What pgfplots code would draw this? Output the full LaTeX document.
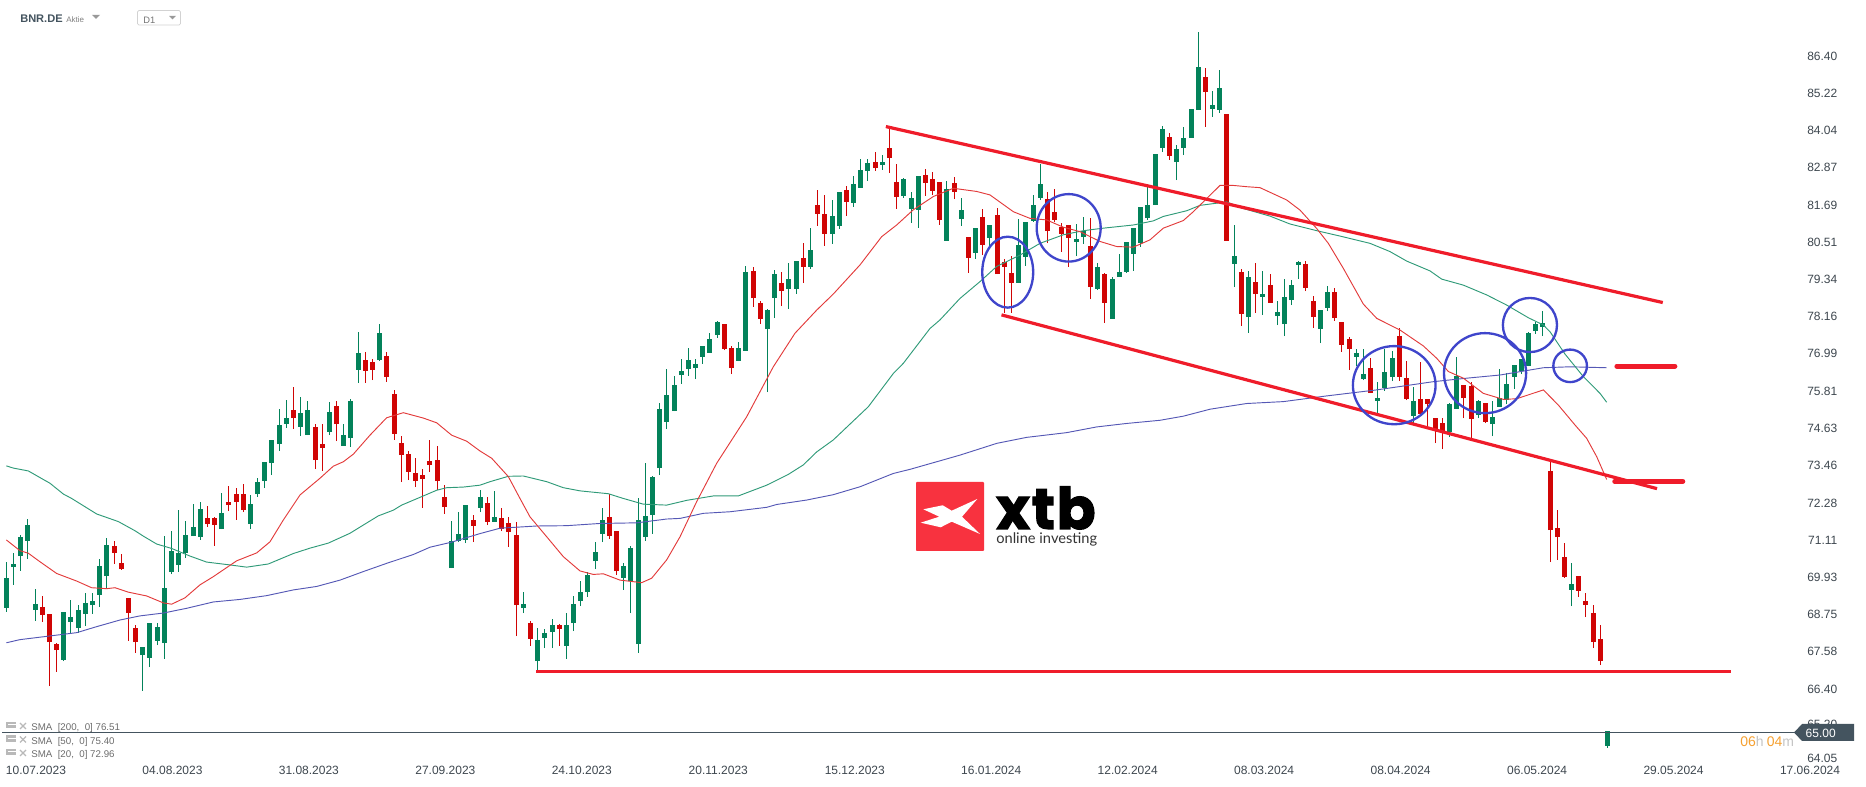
\documentclass[border=0pt]{standalone}
\usepackage{pgfplots}
\usepackage{pgfplotstable}
\usepackage{fontspec}
\pgfplotsset{compat=1.18}
\setmainfont{Liberation Sans}
\newfontfamily\logofont[BoldFeatures={FakeBold=2},LetterSpace=3]{Poppins}
\newfontfamily\subfont{Lato}
\definecolor{cup}{HTML}{03825A}
\definecolor{cdn}{HTML}{D00505}
\definecolor{smar}{HTML}{E23A3A}
\definecolor{smag}{HTML}{2F9A78}
\definecolor{smab}{HTML}{5558B5}
\definecolor{anr}{HTML}{EF1C2A}
\definecolor{anb}{HTML}{3F45CB}
\definecolor{tick}{HTML}{3D464E}
\definecolor{pline}{HTML}{44545F}
\pgfplotstableread{
i l h b t
0 68.84 70.41 68.97 69.91
1 69.69 70.70 70.25 70.35
2 70.13 71.26 70.60 71.20
3 70.51 71.77 71.08 71.58
4 68.55 69.56 68.90 69.08
8 67.28 68.83 67.32 68.83
9 68.14 69.21 68.52 68.67
10 68.17 69.05 68.33 68.90
11 68.39 69.43 68.77 69.12
12 68.77 69.43 69.05 69.18
13 68.99 70.51 69.37 70.29
14 69.59 71.17 69.97 70.95
19 66.34 67.73 67.47 67.73
20 67.09 68.48 67.38 68.48
21 67.79 68.48 67.92 68.36
22 67.35 71.23 67.85 69.59
23 70.03 71.39 70.10 70.76
24 70.10 72.05 70.32 70.70
25 70.54 71.71 70.70 71.26
26 71.23 72.24 71.23 71.52
27 71.11 72.31 71.20 72.09
30 71.45 72.59 71.45 71.96
34 71.45 72.53 71.61 72.24
35 72.47 73.07 72.56 72.94
36 72.75 73.57 72.97 73.57
37 73.16 74.27 73.54 74.27
38 73.92 75.25 74.14 74.74
39 74.65 75.53 74.77 74.96
41 74.39 75.63 74.68 75.12
42 74.42 75.50 74.42 75.21
45 74.42 75.47 74.52 75.15
47 74.08 74.77 74.08 74.42
48 74.05 75.56 74.33 75.50
49 76.07 77.68 76.48 77.02
52 76.76 77.93 76.79 77.65
62 70.22 71.71 70.22 71.08
63 71.04 71.99 71.08 71.30
64 71.01 72.21 71.11 72.21
66 71.99 72.69 72.12 72.47
68 71.68 72.66 71.68 71.83
72 68.80 69.46 68.96 69.09
74 67.00 68.33 67.28 67.95
75 67.69 68.30 68.01 68.17
76 67.69 68.61 68.20 68.42
78 67.35 68.80 67.76 68.42
79 68.23 69.34 68.48 69.09
80 69.02 69.81 69.18 69.46
81 69.31 70.10 69.46 70.00
82 70.19 71.04 70.44 70.73
83 71.04 72.12 71.30 71.74
86 69.53 70.38 69.91 70.29
87 68.80 70.92 69.81 70.85
88 67.54 72.43 67.82 71.74
89 71.08 73.54 71.20 71.87
90 71.30 73.13 71.90 73.10
91 73.16 75.44 73.38 75.25
92 74.61 76.51 74.84 75.69
93 75.18 76.29 75.18 76.00
94 76.04 76.83 76.32 76.45
95 76.29 77.17 76.51 76.79
96 76.19 76.83 76.54 76.67
97 76.67 77.24 76.89 77.24
98 77.02 77.65 77.02 77.46
99 77.49 78.03 77.58 78.00
102 76.76 77.36 76.76 77.17
103 77.08 79.76 77.08 79.57
106 75.78 78.41 77.77 78.37
107 78.12 79.64 78.75 79.51
109 78.41 79.86 79.04 79.35
110 78.88 79.93 79.04 79.93
112 79.67 80.97 79.74 80.27
115 80.46 81.85 80.78 81.35
116 80.94 82.11 81.03 82.11
118 81.63 82.61 81.76 82.36
119 82.23 83.15 82.23 82.80
120 82.45 83.15 82.77 83.02
122 82.80 83.27 82.96 83.05
125 81.92 82.55 81.98 82.52
126 81.13 82.11 81.57 81.92
127 80.97 82.61 81.54 82.61
131 80.56 82.45 80.56 82.20
133 81.03 81.92 81.25 81.54
135 79.99 80.97 80.18 80.97
137 80.38 81.06 80.65 81.06
141 79.23 81.25 79.23 80.43
142 79.77 81.16 80.05 81.16
143 81.16 82.01 81.19 81.69
144 81.85 82.99 81.92 82.36
149 80.08 81.09 80.53 80.62
150 80.46 81.32 80.68 80.87
152 79.01 79.86 79.04 79.74
154 78.09 79.42 78.09 79.36
155 79.42 80.15 79.42 79.58
156 79.55 80.53 79.58 80.53
157 79.61 80.97 80.15 80.97
158 80.37 81.63 80.49 81.63
159 81.22 82.26 81.28 81.69
160 81.69 83.31 81.69 83.31
161 83.37 84.19 83.50 84.10
163 82.48 83.59 83.05 83.46
164 83.27 84.16 83.50 83.81
165 83.81 84.73 83.81 84.73
166 84.70 87.16 84.70 86.05
168 84.48 85.30 84.73 84.85
169 84.60 85.96 84.70 85.39
171 79.10 81.06 79.83 80.08
173 77.65 79.61 78.15 79.42
175 78.22 79.61 78.79 78.88
177 77.90 78.66 78.18 78.31
178 77.55 79.35 77.93 78.79
179 78.53 79.32 78.69 79.16
180 79.35 79.92 79.80 79.89
183 77.33 78.37 77.77 78.37
184 78.34 79.13 78.44 78.94
188 76.60 77.14 76.89 77.02
189 76.16 77.14 76.19 76.35
191 75.09 76.10 75.50 75.59
192 75.82 77.14 75.91 76.42
193 76.13 77.08 76.26 76.86
196 74.81 75.94 75.03 75.50
201 74.36 75.44 74.52 75.40
202 75.25 76.89 75.25 76.29
205 74.96 75.53 75.06 75.50
207 74.39 75.50 74.77 74.99
208 75.31 76.51 75.31 75.59
209 75.40 76.38 75.53 76.04
210 75.88 76.64 76.26 76.64
211 76.35 76.83 76.45 76.83
212 76.60 77.68 76.60 77.65
213 77.62 78.00 77.71 77.93
214 77.55 78.34 77.84 77.96
218 69.02 70.38 69.53 69.72
223 64.54 65.07 64.60 65.07
}\upbars
\pgfplotstableread{
i l h b t
5 68.52 69.34 68.74 68.99
6 66.49 68.77 67.88 68.77
7 66.94 67.85 67.63 67.82
15 70.35 71.08 70.70 70.92
16 70.16 70.66 70.19 70.38
17 67.92 69.27 68.80 69.27
18 67.54 68.42 67.88 68.33
28 71.52 72.18 71.61 71.80
29 70.92 71.83 71.58 71.80
31 72.02 72.81 72.21 72.31
32 71.74 72.75 72.31 72.56
33 71.99 72.88 72.05 72.56
40 74.61 75.94 74.96 75.21
43 73.35 74.77 73.63 74.68
44 73.29 74.77 74.01 74.14
46 74.23 75.50 74.77 75.34
50 76.07 77.05 76.45 76.79
51 76.16 76.83 76.48 76.73
53 76.10 77.05 76.26 76.92
54 74.27 75.85 74.46 75.72
55 72.94 74.39 73.79 74.17
56 73.00 73.92 73.26 73.82
57 72.78 73.70 72.97 73.22
58 72.12 73.35 73.03 73.16
59 73.26 74.27 73.48 73.60
60 72.69 74.08 72.97 73.63
61 71.93 72.84 72.15 72.47
65 71.04 71.90 71.55 71.74
67 71.58 72.47 71.68 72.28
69 71.39 72.12 71.45 71.80
70 70.89 71.83 71.36 71.64
71 68.07 71.68 69.05 71.27
73 67.76 68.55 67.98 68.48
77 67.76 68.45 68.30 68.42
84 71.14 72.56 71.23 71.83
85 70.00 71.39 70.13 71.39
100 77.11 77.93 77.14 77.93
101 76.35 77.24 76.54 77.17
104 78.47 79.73 78.75 79.61
105 77.93 78.66 78.09 78.60
108 78.50 79.57 78.97 79.23
111 79.23 80.49 79.74 80.02
113 81.03 82.17 81.41 81.69
114 80.40 82.01 80.78 81.41
117 81.35 82.29 81.79 82.17
121 82.77 83.37 82.86 83.05
123 82.71 84.17 83.18 83.50
124 81.57 82.99 81.95 82.42
128 81.98 82.83 82.39 82.64
129 82.01 82.74 82.14 82.52
130 81.06 82.42 81.22 82.42
132 81.88 82.58 82.11 82.39
134 79.55 80.68 80.02 80.68
136 80.11 81.57 80.43 81.32
138 79.51 81.60 79.51 81.38
139 78.28 79.99 79.74 79.89
140 78.28 80.08 79.23 79.55
145 80.49 82.11 80.87 81.88
146 81.16 82.20 81.22 81.47
147 80.21 81.13 80.78 81.00
148 79.74 81.06 80.65 81.06
151 78.72 81.28 79.10 80.40
153 77.97 79.55 78.60 79.52
162 83.12 83.97 83.24 83.84
167 84.16 86.02 85.27 85.74
170 80.56 84.57 80.56 84.57
172 77.87 79.67 78.25 79.58
174 78.28 79.86 78.88 79.26
176 78.60 79.51 78.60 79.16
181 78.97 79.92 79.07 79.83
182 77.81 78.82 78.15 78.66
185 78.03 79.07 78.12 78.94
186 77.05 78.00 77.27 78.00
187 76.48 77.52 77.14 77.46
190 75.75 76.86 75.75 76.54
194 76.13 77.81 76.26 77.55
195 75.53 76.76 75.56 76.23
197 75.03 76.73 75.09 75.56
198 74.68 75.56 75.40 75.56
199 74.17 74.96 74.58 74.96
200 73.98 74.96 74.52 74.80
203 74.96 76.00 75.59 76.00
204 74.33 76.10 74.93 75.97
206 74.80 75.44 74.84 75.44
215 70.41 73.60 71.42 73.29
216 70.48 72.06 71.20 71.49
217 69.91 71.01 69.94 70.57
219 69.31 69.97 69.50 69.97
220 68.67 69.43 69.05 69.18
221 67.69 69.05 67.88 68.80
222 67.16 68.42 67.28 67.98
}\downbars
\begin{document}
\begin{tikzpicture}
\useasboundingbox (0,0) rectangle (1399.5pt,590.25pt);
\begin{axis}[
  at={(0,0)},anchor=south west,
  scale only axis,width=1399.5pt,height=590.25pt,
  xmin=-0.8816,xmax=259.01,ymin=63.304,ymax=88.169,
  axis line style={draw=none},
  major tick length=0pt,
  clip=false,
  xtick pos=bottom,ytick pos=right,
  xtick={4.13,23.14,42.14,61.15,80.15,99.16,118.17,137.17,156.18,175.18,194.19,213.2,232.2,251.21},
  xticklabels={10.07.2023,04.08.2023,31.08.2023,27.09.2023,24.10.2023,20.11.2023,15.12.2023,16.01.2024,12.02.2024,08.03.2024,08.04.2024,06.05.2024,29.05.2024,17.06.2024},
  ytick={86.40,85.22,84.04,82.87,81.69,80.51,79.34,78.16,76.99,75.81,74.63,73.46,72.28,71.11,69.93,68.75,67.58,66.40,65.29,64.22},
  yticklabels={86.40,85.22,84.04,82.87,81.69,80.51,79.34,78.16,76.99,75.81,74.63,73.46,72.28,71.11,69.93,68.75,67.58,66.40,65.20,64.05},
  tick label style={font=\fontsize{9}{10}\selectfont,text=tick},
  xticklabel style={anchor=center,yshift=12.75pt},
  yticklabel style={anchor=east,xshift=-18pt},
]
% wicks and bodies
\addplot[draw=none,mark=none,forget plot,error bars/.cd,y dir=plus,y explicit,error mark=none,
  error bar style={line width=0.75pt,color=cup}]
  table[x=i,y=l,y error plus expr=\thisrow{h}-\thisrow{l}]{\upbars};
\addplot[draw=none,mark=none,forget plot,error bars/.cd,y dir=plus,y explicit,error mark=none,
  error bar style={line width=3.75pt,color=cup}]
  table[x=i,y=b,y error plus expr=\thisrow{t}-\thisrow{b}]{\upbars};
\addplot[draw=none,mark=none,forget plot,error bars/.cd,y dir=plus,y explicit,error mark=none,
  error bar style={line width=0.75pt,color=cdn}]
  table[x=i,y=l,y error plus expr=\thisrow{h}-\thisrow{l}]{\downbars};
\addplot[draw=none,mark=none,forget plot,error bars/.cd,y dir=plus,y explicit,error mark=none,
  error bar style={line width=3.75pt,color=cdn}]
  table[x=i,y=b,y error plus expr=\thisrow{t}-\thisrow{b}]{\downbars};
% SMA 200
\addplot[smab,line width=0.7pt,forget plot] coordinates {
(0,67.86)(1.9,67.96)(5.15,68.05)(9.8,68.18)(12.58,68.37)(15.83,68.58)(18.62,68.71)(21.87,68.80)(25.12,68.95)(28.83,69.15)(32.54,69.23)(36.26,69.35)(39.97,69.53)(43.22,69.64)(46.47,69.84)(49.72,70.11)(52.97,70.37)(56.69,70.65)(59.01,70.88)(62.02,71.04)(65.97,71.31)(68.76,71.48)(73.86,71.55)(78.04,71.56)(82.68,71.63)(87.79,71.65)(91.97,71.77)(93.83,71.79)(97.07,71.95)(100.79,72.00)(105.9,72.14)(107.29,72.23)(111.47,72.37)(115.18,72.54)(118.9,72.79)(123.54,73.21)(125.86,73.34)(132.83,73.79)(137.93,74.16)(142.11,74.35)(147.68,74.50)(151.86,74.68)(156.04,74.79)(160.68,74.89)(163.93,75.02)(167.65,75.24)(172.75,75.42)(177.86,75.48)(183.89,75.66)(190.86,75.85)(198.75,76.11)(203.39,76.22)(208.03,76.32)(214.07,76.55)(217.78,76.58)(222.89,76.55)};
% SMA 50
\addplot[smag,line width=0.7pt,forget plot] coordinates {
(0,73.45)(0.97,73.38)(3.06,73.29)(6.08,72.90)(7.94,72.56)(9.10,72.42)(12.58,71.93)(15.6,71.69)(17.92,71.40)(19.08,71.23)(20.94,70.98)(23.03,70.84)(25.58,70.60)(27.9,70.41)(31.15,70.32)(33.47,70.25)(36.49,70.35)(39.97,70.68)(42.29,70.85)(44.85,71.01)(47.86,71.32)(49.72,71.58)(51.81,71.87)(53.9,72.05)(55.06,72.21)(58.08,72.50)(59.94,72.68)(61.33,72.76)(63.65,72.78)(65.97,72.84)(67.36,72.95)(69.92,73.12)(72.0,73.13)(75.26,72.95)(77.58,72.76)(79.9,72.66)(83.84,72.57)(85.93,72.42)(88.72,72.24)(91.97,72.21)(94.75,72.36)(98.47,72.50)(101.95,72.50)(105.9,72.84)(108.91,73.18)(111.0,73.48)(112.86,73.89)(115.18,74.27)(120.06,75.32)(123.54,76.37)(124.93,76.69)(128.64,77.79)(130.03,78.06)(132.82,78.74)(135.6,79.27)(137.93,79.75)(141.18,80.11)(143.96,80.48)(147.21,80.75)(149.99,80.88)(152.78,80.96)(156.96,81.06)(159.75,81.19)(161.14,81.33)(164.39,81.51)(166.25,81.68)(169.96,81.79)(172.28,81.58)(176,81.34)(178.8,81.09)(182.5,80.88)(185.75,80.71)(189.93,80.48)(192.71,80.22)(195.03,79.92)(198.28,79.61)(199.91,79.35)(202.93,79.16)(206.18,78.85)(208.96,78.53)(211.98,78.13)(214.07,77.90)(214.99,77.69)(217.09,76.98)(219.64,76.27)(221.96,75.74)(222.89,75.46)};
% SMA 20
\addplot[smar,line width=0.7pt,forget plot] coordinates {
(0,71.11)(1.9,70.77)(3.06,70.69)(4.69,70.42)(7.01,70.05)(9.8,69.81)(11.88,69.60)(13.97,69.57)(15.13,69.60)(16.99,69.46)(19.54,69.34)(21.87,69.12)(23.03,69.08)(24.88,69.28)(26.97,69.69)(28.83,69.95)(32.08,70.45)(34.87,70.70)(36.72,71.05)(38.58,71.74)(40.9,72.53)(43.69,73.06)(45.54,73.44)(46.94,73.58)(48.33,73.82)(50.65,74.42)(52.97,74.97)(55.29,75.13)(58.08,74.96)(59.94,74.81)(62.02,74.42)(64.11,74.23)(65.97,73.92)(67.6,73.69)(69.92,73.11)(71.54,72.42)(72.93,71.84)(75.26,71.21)(77.58,70.58)(79.9,70.13)(81.75,70.02)(83.15,70.04)(85.47,69.84)(88.49,69.76)(89.88,69.90)(91.97,70.48)(93.83,71.21)(96.15,72.32)(98.93,73.53)(103.11,75.00)(106.82,76.58)(109.84,77.64)(112.86,78.37)(115.18,78.88)(118.9,79.80)(121.91,80.69)(124,81.06)(126.32,81.54)(129.11,81.96)(131.89,82.22)(135.14,82.12)(137,82.01)(140.25,81.48)(142.57,81.27)(144.89,81.22)(147.21,80.99)(149.53,80.85)(152.32,80.54)(154.64,80.38)(156.96,80.36)(159.28,80.59)(161.14,80.96)(163.92,81.20)(165.32,81.48)(169.03,82.31)(170.89,82.31)(172.75,82.27)(174.6,82.24)(178.32,81.85)(180.18,81.53)(182.5,80.95)(184.12,80.48)(186.21,79.69)(189,78.56)(190.86,78.11)(194.11,77.74)(197.35,77.24)(199.21,76.85)(200.84,76.43)(202.93,76.22)(205.71,75.74)(208.5,75.55)(210.35,75.57)(214.07,75.85)(216.16,75.37)(218.48,74.74)(220.1,74.32)(221.5,73.74)(222.89,73.02)};
% price line
\addplot[pline,line width=0.8pt,forget plot] coordinates {(-0.6,65.02)(249.1,65.02)};
% red trend lines
\addplot[anr,line width=2.4pt,forget plot] coordinates {(122.5,84.17)(230.7,78.61)};
\addplot[anr,line width=2.4pt,forget plot] coordinates {(138.6,78.22)(229.9,72.73)};
\addplot[anr,line width=2.2pt,forget plot] coordinates {(73.8,66.96)(240.2,66.96)};
\addplot[anr,line width=3.6pt,line cap=round,forget plot] coordinates {(224.3,76.60)(232.4,76.60)};
\addplot[anr,line width=3.6pt,line cap=round,forget plot] coordinates {(224,72.96)(233.5,72.96)};
% blue circles
\draw[anb,line width=1.75pt] (axis cs:139.47,79.57) ellipse [x radius=19.1pt,y radius=26.6pt];
\draw[anb,line width=1.75pt] (axis cs:147.96,80.97) ellipse [x radius=24pt,y radius=25.3pt];
\draw[anb,line width=1.75pt] (axis cs:193.3,76.0) ellipse [x radius=31pt,y radius=29.3pt];
\draw[anb,line width=1.75pt] (axis cs:205.95,76.38) ellipse [x radius=30.8pt,y radius=30pt];
\draw[anb,line width=1.75pt] (axis cs:212.2,77.90) ellipse [x radius=20.3pt,y radius=20.3pt];
\draw[anb,line width=1.75pt] (axis cs:217.8,76.61) ellipse [x radius=12.6pt,y radius=12.2pt];
\end{axis}
\begin{scope}[x=0.75pt,y=-0.75pt,shift={(0,590.25pt)}]
% price tag
\fill[pline] (1794,732.5) -- (1802,724) -- (1854,724) -- (1854,741) -- (1802,741) -- cycle;
\node[anchor=east,text=white,inner sep=0,font=\fontsize{9}{10}\selectfont] at (1836,733) {65.00};
% countdown
\node[anchor=west,inner sep=0,font=\fontsize{10.5}{11}\selectfont] at (1740,742) {\textcolor[HTML]{F5A030}{06}\textcolor[HTML]{C4C4C4}{h}\hspace{2.4pt}\textcolor[HTML]{F5A030}{04}\textcolor[HTML]{C4C4C4}{m}};
% logo
\fill[rounded corners=0.6pt,fill={rgb,255:red,248;green,50;blue,63}] (916,482) rectangle (984,551);
\fill[white] (923.3,509.3) -- (942.7,505.3) -- (951.7,510.7) -- (977.3,499) -- (962,516.7) -- (980,534) -- (951.7,521.7) -- (940.7,527.3) -- (920.7,522.7) -- (939.3,516.7) -- cycle;
\node[anchor=base west,inner sep=0,font=\logofont\bfseries\fontsize{43}{44}\selectfont] at (996,529) {xtb};
\node[anchor=base west,inner sep=0,font=\subfont\fontsize{11}{12}\selectfont,text=black!80] at (996,544) {online investing};
% header
\node[anchor=west,inner sep=0,font=\bfseries\fontsize{8.3}{9}\selectfont,text=pline] at (20,19) {BNR.DE};
\node[anchor=west,inner sep=0,font=\fontsize{6}{7}\selectfont,text=gray] at (66,19.5) {Aktie};
\fill[gray!80] (92,15) -- (100,15) -- (96,19) -- cycle;
\draw[gray!35,line width=0.5pt,rounded corners=1pt] (137.5,10.5) rectangle (180.5,25);
\node[anchor=west,inner sep=0,font=\fontsize{7}{8}\selectfont,text=gray!90!black] at (143,20) {D1};
\fill[gray!80] (169,16) -- (176,16) -- (172.5,19.5) -- cycle;
% indicator list
\foreach \yy/\lab in {728/{SMA\ \ [200,\ \ 0]\ 76.51},741.5/{SMA\ \ [50,\ \ 0]\ 75.40},755/{SMA\ \ [20,\ \ 0]\ 72.96}}{
  \fill[gray!55] (6,\yy-6) rectangle (16,\yy+0.5);
  \fill[white] (8,\yy-3.5) rectangle (16,\yy-2.5);
  \draw[gray!55,line width=1pt] (20,\yy-5) -- (26,\yy+1);
  \draw[gray!55,line width=1pt] (26,\yy-5) -- (20,\yy+1);
  \node[anchor=west,inner sep=0,font=\fontsize{7.3}{8}\selectfont,text=gray!85!black] at (31,\yy) {\lab};
}
\end{scope}
\end{tikzpicture}
\end{document}
